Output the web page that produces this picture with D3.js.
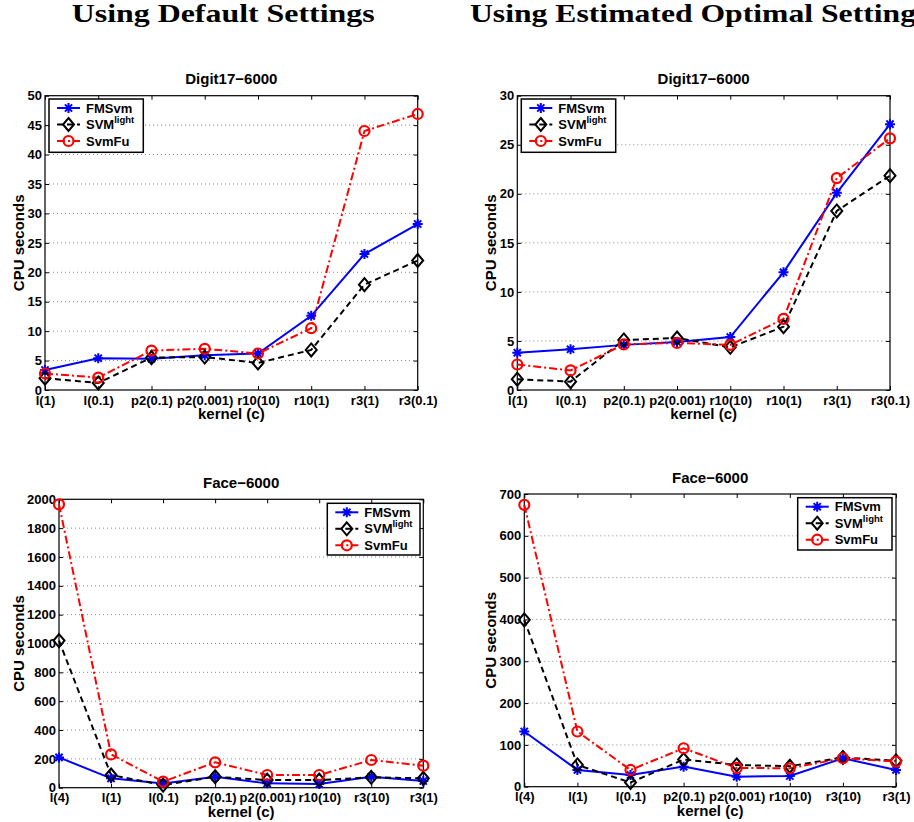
<!DOCTYPE html>
<html>
<head>
<meta charset="utf-8">
<script src="https://cdn.jsdelivr.net/npm/d3@7"></script>
<style>
  body { margin: 0; background: #fff; }
  svg { display: block; }
  text { font-family: "Liberation Sans", Arial, Helvetica, sans-serif; font-weight: bold; fill: #000; }
</style>
</head>
<body>
<script>
// ---- data ----
var seriesNames = ["FMSvm", "SVMlight", "SvmFu"];

var digitKernels = ["l(1)", "l(0.1)", "p2(0.1)", "p2(0.001)", "r10(10)", "r10(1)", "r3(1)", "r3(0.1)"];
var faceKernels  = ["l(4)", "l(1)", "l(0.1)", "p2(0.1)", "p2(0.001)", "r10(10)", "r3(10)", "r3(1)"];

var digitDefaultFMSvm    = [3.4, 5.4, 5.3, 5.9, 6.2, 12.6, 23.1, 28.2];
var digitDefaultSVMlight = [2.0, 1.2, 5.5, 5.6, 4.6, 6.8, 17.9, 22.0];
var digitDefaultSvmFu    = [2.8, 2.1, 6.7, 7.0, 6.2, 10.5, 44.0, 46.9];

var digitOptimalFMSvm    = [3.8, 4.15, 4.6, 4.9, 5.4, 12.0, 20.1, 27.1];
var digitOptimalSVMlight = [1.1, 0.85, 5.1, 5.3, 4.35, 6.45, 18.25, 21.85];
var digitOptimalSvmFu    = [2.6, 2.0, 4.65, 4.8, 4.6, 7.25, 21.6, 25.65];

var faceDefaultFMSvm    = [210, 65, 30, 76, 30, 25, 76, 46];
var faceDefaultSVMlight = [1020, 88, 18, 76, 53, 53, 72, 65];
var faceDefaultSvmFu    = [1965, 231, 42, 176, 88, 88, 192, 153];

var faceOptimalFMSvm    = [132, 40, 28, 48, 24, 25.5, 68, 40];
var faceOptimalSVMlight = [399, 52, 10, 65, 52, 49, 70, 62];
var faceOptimalSvmFu    = [674, 132, 40, 92, 45, 44, 68, 60];

var digitDefaultTicks = d3.range(0, 51, 5);
var digitOptimalTicks = d3.range(0, 31, 5);
var faceDefaultTicks  = d3.range(0, 2001, 200);
var faceOptimalTicks  = d3.range(0, 701, 100);

var headings = ["Using Default Settings", "Using Estimated Optimal Setting"];

// ---- layout ----
var W = 914, H = 822;
var svg = d3.select("body").append("svg").attr("width", W).attr("height", H);

svg.append("text").attr("x", 71.7).attr("y", 22)
   .attr("textLength", 303).attr("lengthAdjust", "spacingAndGlyphs")
   .style("font-family", "'Liberation Serif', 'DejaVu Serif', serif")
   .style("font-size", "26px").text(headings[0]);
svg.append("text").attr("x", 470).attr("y", 22)
   .attr("textLength", 446).attr("lengthAdjust", "spacingAndGlyphs")
   .style("font-family", "'Liberation Serif', 'DejaVu Serif', serif")
   .style("font-size", "26px").text(headings[1]);

var styles = [
  {color: "#0000ff", dash: null, marker: "star"},
  {color: "#000000", dash: "6,4", marker: "diamond"},
  {color: "#ff0000", dash: "8,3,2,3", marker: "circle"}
];

var panels = [
  {title: "Digit17\u22126000", kernels: digitKernels, ymax: 50, ticks: digitDefaultTicks,
   series: [digitDefaultFMSvm, digitDefaultSVMlight, digitDefaultSvmFu],
   left: 45, right: 417.7, top: 95.7, bottom: 390, titleY: 84, ylabX: 24.4,
   leg: {x: 49, y: 99, w: 94.3, h: 53.3}},
  {title: "Digit17\u22126000", kernels: digitKernels, ymax: 30, ticks: digitOptimalTicks,
   series: [digitOptimalFMSvm, digitOptimalSVMlight, digitOptimalSvmFu],
   left: 517.3, right: 890, top: 95.7, bottom: 390, titleY: 84, ylabX: 496.4,
   leg: {x: 521.3, y: 99, w: 94.4, h: 53.3}},
  {title: "Face\u22126000", kernels: faceKernels, ymax: 2000, ticks: faceDefaultTicks,
   series: [faceDefaultFMSvm, faceDefaultSVMlight, faceDefaultSvmFu],
   left: 59, right: 423.3, top: 499.3, bottom: 787.7, titleY: 488.3, ylabX: 24.4,
   leg: {x: 327.3, y: 503.3, w: 92.7, h: 51.7}},
  {title: "Face\u22126000", kernels: faceKernels, ymax: 700, ticks: faceOptimalTicks,
   series: [faceOptimalFMSvm, faceOptimalSVMlight, faceOptimalSvmFu],
   left: 524.3, right: 896, top: 494, bottom: 786.7, titleY: 482.7, ylabX: 496.4,
   leg: {x: 797.7, y: 497.7, w: 94.3, h: 52.3}}
];

function drawMarker(g, type, color) {
  if (type == "star") {
    g.append("path")
     .attr("d", "M-5,0L5,0M0,-5L0,5M-3.6,-3.6L3.6,3.6M-3.6,3.6L3.6,-3.6")
     .attr("stroke", color).attr("stroke-width", 2).attr("fill", "none");
  } else if (type == "diamond") {
    g.append("path")
     .attr("d", "M0,-6.5L5.5,0L0,6.5L-5.5,0Z")
     .attr("stroke", color).attr("stroke-width", 2).attr("fill", "none");
  } else {
    g.append("circle").attr("r", 5)
     .attr("stroke", color).attr("stroke-width", 2.2).attr("fill", "none");
  }
}

panels.forEach(function(p) {
  var x = d3.scalePoint().domain(p.kernels).range([p.left, p.right]).padding(0);
  var y = d3.scaleLinear().domain([0, p.ymax]).range([p.bottom, p.top]);
  var g = svg.append("g");

  // dotted grid
  g.selectAll(".grid")
   .data(p.ticks.filter(function(t) { return t > 0 && t < p.ymax; }))
   .enter().append("line")
   .attr("x1", p.left).attr("x2", p.right)
   .attr("y1", function(d) { return y(d); })
   .attr("y2", function(d) { return y(d); })
   .attr("stroke", "#8a8a8a").attr("stroke-width", 1)
   .attr("stroke-dasharray", "1,3");

  // axes with inward ticks
  var ax = g.append("g").attr("transform", "translate(" + p.left + ",0)")
    .call(d3.axisLeft(y).tickValues(p.ticks).tickFormat(d3.format("d"))
      .tickSizeInner(-4).tickSizeOuter(0).tickPadding(3));
  ax.selectAll("text").style("font-size", "13px");
  var axr = g.append("g").attr("transform", "translate(" + p.right + ",0)")
    .call(d3.axisRight(y).tickValues(p.ticks).tickSizeInner(-4).tickSizeOuter(0).tickFormat(""));
  var axb = g.append("g").attr("transform", "translate(0," + p.bottom + ")")
    .call(d3.axisBottom(x).tickSizeInner(-4).tickSizeOuter(0).tickPadding(5.3));
  axb.selectAll("text").style("font-size", "13px");
  var axt = g.append("g").attr("transform", "translate(0," + p.top + ")")
    .call(d3.axisTop(x).tickSizeInner(-4).tickSizeOuter(0).tickFormat(""));
  [ax, axr, axb, axt].forEach(function(a) {
    a.select(".domain").remove();
    a.selectAll("line").attr("stroke", "#000");
    a.attr("font-family", null).attr("font-size", null);
  });

  g.append("rect").attr("x", p.left).attr("y", p.top)
   .attr("width", p.right - p.left).attr("height", p.bottom - p.top)
   .attr("fill", "none").attr("stroke", "#000").attr("stroke-width", 1.2);

  // lines and markers
  var line = d3.line()
    .x(function(d, i) { return x(p.kernels[i]); })
    .y(function(d) { return y(d); });

  p.series.forEach(function(vals, si) {
    var s = styles[si];
    g.append("path").datum(vals)
     .attr("d", line).attr("fill", "none")
     .attr("stroke", s.color).attr("stroke-width", 2)
     .attr("stroke-dasharray", s.dash);
  });
  p.series.forEach(function(vals, si) {
    var s = styles[si];
    vals.forEach(function(v, i) {
      var m = g.append("g").attr("transform", "translate(" + x(p.kernels[i]) + "," + y(v) + ")");
      drawMarker(m, s.marker, s.color);
    });
  });

  // labels
  var cx = (p.left + p.right) / 2;
  g.append("text").attr("x", cx).attr("y", p.titleY).attr("text-anchor", "middle")
   .style("font-size", "15px").text(p.title);
  g.append("text").attr("x", cx).attr("y", p.bottom + 29).attr("text-anchor", "middle")
   .style("font-size", "15px").text("kernel (c)");
  g.append("text")
   .attr("transform", "translate(" + p.ylabX + "," + ((p.top + p.bottom) / 2) + ") rotate(-90)")
   .attr("text-anchor", "middle").style("font-size", "15px").text("CPU seconds");

  // legend
  var L = p.leg;
  var lg = g.append("g").attr("transform", "translate(" + L.x + "," + L.y + ")");
  lg.append("rect").attr("width", L.w).attr("height", L.h)
    .attr("fill", "#fff").attr("stroke", "#000").attr("stroke-width", 1.5);
  var rows = [9, 25.5, 42];
  seriesNames.forEach(function(name, si) {
    var s = styles[si];
    var ry = rows[si];
    lg.append("line").attr("x1", 8).attr("x2", 31).attr("y1", ry).attr("y2", ry)
      .attr("stroke", s.color).attr("stroke-width", 2).attr("stroke-dasharray", s.dash);
    drawMarker(lg.append("g").attr("transform", "translate(19.5," + ry + ")"), s.marker, s.color);
    var t = lg.append("text").attr("x", 37).attr("y", ry + 4.7).style("font-size", "13px");
    if (name == "SVMlight") {
      t.append("tspan").text("SVM");
      t.append("tspan").attr("dy", -6).style("font-size", "9.5px").text("light");
    } else {
      t.text(name);
    }
  });
});
</script>
</body>
</html>
